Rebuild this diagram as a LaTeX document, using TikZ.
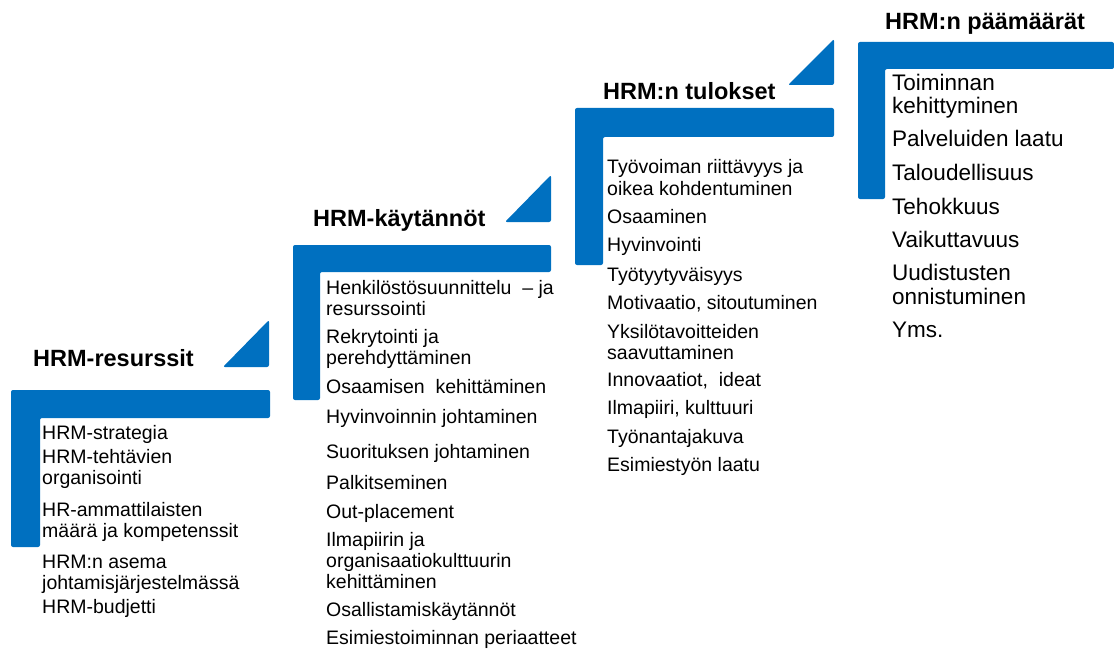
\documentclass[tikz,border=0pt]{standalone}
\usepackage{fontspec}
\setmainfont{Liberation Sans}
\definecolor{hrmblue}{RGB}{0,112,192}
\tikzset{
  stairbar/.style={fill=hrmblue, rounded corners=2pt},
  hrmtitle/.style={anchor=base west, inner sep=0pt, font=\bfseries\fontsize{23.5}{25}\selectfont},
  hrmitem/.style={anchor=base west, inner sep=0pt, align=left, font=\fontsize{19.5}{21}\selectfont},
  goalitem/.style={hrmitem, font=\fontsize{22.5}{24}\selectfont}
}
\begin{document}
\begin{tikzpicture}[x=1pt,y=-1pt]
\useasboundingbox (0,0) rectangle (1114,650);

%%Stairs
\fill[stairbar] (11,390) -- (270,390) -- (270,418) -- (40,418) -- (40,547) -- (11,547) -- cycle;
\fill[stairbar] (293,245) -- (551,245) -- (551,272) -- (320,272) -- (320,400) -- (293,400) -- cycle;
\fill[stairbar] (575,108) -- (834,108) -- (834,137) -- (603,137) -- (603,265) -- (575,265) -- cycle;
\fill[stairbar] (858,42) -- (1114,42) -- (1114,69) -- (885,69) -- (885,199) -- (858,199) -- cycle;

%%Arrows
\fill[stairbar] (223,367) -- (269,320) -- (269,367) -- cycle;
\fill[stairbar] (505,222) -- (551,175) -- (551,222) -- cycle;
\fill[stairbar] (788,85) -- (834,39) -- (834,85) -- cycle;

%%Titles
\node[hrmtitle] (resurssit) at (33,366) {HRM-resurssit};
\node[hrmtitle] (kaytannot) at (313,226) {HRM-käytännöt};
\node[hrmtitle] (tulokset) at (603,100) {HRM:n tulokset};
\node[hrmtitle] (paamaarat) at (885,30) {HRM:n päämäärät};

%%Resources (y = baseline of last line)
\foreach \y/\txt [count=\i] in {439/{HRM-strategia},
    484/{HRM-tehtävien\\organisointi},
    537/{HR-ammattilaisten\\määrä ja kompetenssit},
    589/{HRM:n asema\\johtamisjärjestelmässä},
    613/{HRM-budjetti}}
  \node[hrmitem] (res\i) at (42,\y) {\txt};

%%Practices
\foreach \y/\txt [count=\i] in {315/{Henkilöstösuunnittelu\ \ – ja\\resurssointi},
    364/{Rekrytointi ja\\perehdyttäminen},
    393/{Osaamisen\ \ kehittäminen},
    423/{Hyvinvoinnin johtaminen},
    458/{Suorituksen johtaminen},
    489/{Palkitseminen},
    518/{Out-placement},
    588/{Ilmapiirin ja\\organisaatiokulttuurin\\kehittäminen},
    616/{Osallistamiskäytännöt},
    644/{Esimiestoiminnan periaatteet}}
  \node[hrmitem] (kay\i) at (326,\y) {\txt};

%%Results
\foreach \y/\txt [count=\i] in {195/{Työvoiman riittävyys ja\\oikea kohdentuminen},
    223/{Osaaminen},
    251/{Hyvinvointi},
    281/{Työtyytyväisyys},
    309/{Motivaatio, sitoutuminen},
    359/{Yksilötavoitteiden\\saavuttaminen},
    386/{Innovaatiot,\ \ ideat},
    414/{Ilmapiiri, kulttuuri},
    443/{Työnantajakuva},
    471/{Esimiestyön laatu}}
  \node[hrmitem] (tul\i) at (607,\y) {\txt};

%%Goals
\foreach \y/\txt [count=\i] in {114/{Toiminnan\\kehittyminen},
    147/{Palveluiden laatu},
    180/{Taloudellisuus},
    214/{Tehokkuus},
    247/{Vaikuttavuus},
    304/{Uudistusten\\onnistuminen},
    337/{Yms.}}
  \node[goalitem] (paa\i) at (892,\y) {\txt};
\end{tikzpicture}
\end{document}
